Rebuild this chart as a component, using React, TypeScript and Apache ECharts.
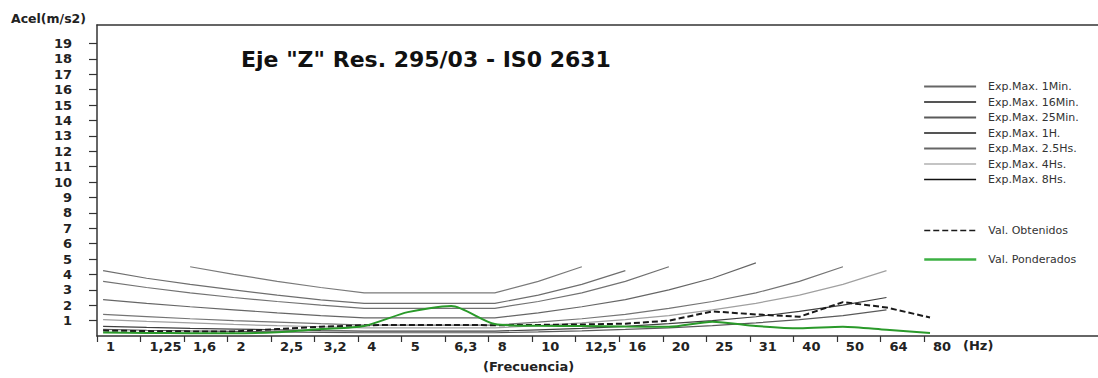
import React, { useEffect, useRef } from "react";
import * as echarts from "echarts";

// Frequency categories (Hz) as printed on the axis
const xLabels = ["1", "1,25", "1,6", "2", "2,5", "3,2", "4", "5", "6,3", "8", "10", "12,5", "16", "20", "25", "31", "40", "50", "64", "80"];

// Exposure limit curves (m/s2), null where the curve is not drawn
const exp1Min = [null, null, 4.5, 4.0, 3.55, 3.15, 2.8, 2.8, 2.8, 2.8, 3.55, 4.5, null, null, null, null, null, null, null, null];
const exp16Min = [4.25, 3.75, 3.35, 3.0, 2.65, 2.35, 2.12, 2.12, 2.12, 2.12, 2.65, 3.35, 4.25, null, null, null, null, null, null, null];
const exp25Min = [3.55, 3.15, 2.8, 2.5, 2.24, 2.0, 1.8, 1.8, 1.8, 1.8, 2.24, 2.8, 3.55, 4.5, null, null, null, null, null, null];
const exp1H = [2.36, 2.12, 1.9, 1.7, 1.5, 1.32, 1.18, 1.18, 1.18, 1.18, 1.5, 1.9, 2.36, 3.0, 3.75, 4.75, null, null, null, null];
const exp25H = [1.4, 1.26, 1.12, 1.0, 0.9, 0.8, 0.71, 0.71, 0.71, 0.71, 0.9, 1.12, 1.4, 1.8, 2.24, 2.8, 3.55, 4.5, null, null];
const exp4H = [1.06, 0.95, 0.85, 0.75, 0.67, 0.6, 0.53, 0.53, 0.53, 0.53, 0.67, 0.85, 1.06, 1.32, 1.7, 2.12, 2.65, 3.35, 4.25, null];
const exp8H = [0.63, 0.56, 0.5, 0.45, 0.4, 0.355, 0.315, 0.315, 0.315, 0.315, 0.4, 0.5, 0.63, 0.8, 1.0, 1.25, 1.6, 2.0, 2.5, null];
const exp16H = [0.425, 0.375, 0.335, 0.3, 0.265, 0.235, 0.21, 0.21, 0.21, 0.21, 0.265, 0.335, 0.425, 0.53, 0.67, 0.85, 1.06, 1.32, 1.7, null];

// Measured values
const valObtenidos = [0.35, 0.32, 0.3, 0.3, 0.45, 0.6, 0.7, 0.72, 0.72, 0.7, 0.72, 0.75, 0.8, 1.0, 1.6, 1.4, 1.25, 2.2, 1.85, 1.2];
const valPonderados = [0.22, 0.2, 0.18, 0.18, 0.25, 0.45, 0.65, 1.55, 1.95, 0.78, 0.66, 0.65, 0.62, 0.6, 0.93, 0.65, 0.5, 0.6, 0.4, 0.2];

const expNames = ["Exp.Max. 1Min.", "Exp.Max. 16Min.", "Exp.Max. 25Min.", "Exp.Max. 1H.", "Exp.Max. 2.5Hs.", "Exp.Max. 4Hs.", "Exp.Max. 8Hs.", "Exp.Max. 16Hs."];
const expData = [exp1Min, exp16Min, exp25Min, exp1H, exp25H, exp4H, exp8H, exp16H];
const expColors = ["#7a7a7a", "#6e6e6e", "#727272", "#666666", "#747474", "#a0a0a0", "#404040", "#5a5a5a"];
const legendColors = ["#666666", "#555555", "#5a5a5a", "#555555", "#666666", "#b0b0b0", "#111111"];

const yTickValues = [1, 2, 3, 4, 5, 6, 7, 8, 9, 10, 11, 12, 13, 14, 15, 16, 17, 18, 19];

const FONT = "DejaVu Sans";

function toPairs(arr: (number | null)[]) {
  const out: [number, number][] = [];
  arr.forEach((v, i) => {
    if (v !== null) out.push([i, v]);
  });
  return out;
}

export default function App() {
  const ref = useRef<HTMLDivElement>(null);
  useEffect(() => {
    document.body.style.margin = "0";
    if (!ref.current) return;
    const chart = echarts.init(ref.current, null, { renderer: "svg" });
    const xIdx = xLabels.map((_, i) => i);

    const series: any[] = expNames.map((name, k) => ({
      name,
      type: "line",
      xAxisIndex: 1,
      yAxisIndex: 0,
      showSymbol: false,
      symbol: "none",
      data: toPairs(expData[k]),
      lineStyle: { color: expColors[k], width: 1.2 },
      itemStyle: { color: expColors[k] },
      z: 2,
    }));
    series.push({
      name: "Val. Obtenidos",
      type: "line",
      xAxisIndex: 1,
      yAxisIndex: 0,
      showSymbol: false,
      symbol: "none",
      data: toPairs(valObtenidos),
      lineStyle: { color: "#1a1a1a", width: 2, type: [6, 3] },
      itemStyle: { color: "#1a1a1a" },
      z: 3,
    });
    series.push({
      name: "Val. Ponderados",
      type: "line",
      xAxisIndex: 1,
      yAxisIndex: 0,
      showSymbol: false,
      symbol: "none",
      smooth: 0.25,
      data: toPairs(valPonderados),
      lineStyle: { color: "#2a9a2a", width: 2 },
      itemStyle: { color: "#2a9a2a" },
      z: 4,
    });

    const option: any = {
      animation: false,
      backgroundColor: "#ffffff",
      title: [
        {
          text: 'Eje "Z" Res. 295/03 - IS0 2631',
          left: 241,
          top: 48,
          padding: 0,
          textStyle: { fontFamily: FONT, fontWeight: "bold", fontSize: 22, color: "#111" },
        },
        {
          text: "Acel(m/s2)",
          left: 11,
          top: 12,
          padding: 0,
          textStyle: { fontFamily: FONT, fontWeight: "bold", fontSize: 12.5, color: "#222" },
        },
        {
          text: "(Frecuencia)",
          left: 483,
          top: 360,
          padding: 0,
          textStyle: { fontFamily: FONT, fontWeight: "bold", fontSize: 13, color: "#222" },
        },
        {
          text: "(Hz)",
          left: 963,
          top: 339,
          padding: 0,
          textStyle: { fontFamily: FONT, fontWeight: "bold", fontSize: 13, color: "#222" },
        },
      ],
      legend: [
        {
          orient: "vertical",
          left: 923,
          top: 81,
          padding: 0,
          itemWidth: 52,
          itemHeight: 10,
          itemGap: 4.5,
          itemStyle: { opacity: 0 },
          data: expNames.slice(0, 7).map((n, k) => ({
            name: n,
            itemStyle: { opacity: 0 },
            lineStyle: { width: k === 5 || k === 6 ? 1.5 : 2.2, color: legendColors[k] },
          })),
          textStyle: { fontFamily: FONT, fontSize: 11, color: "#333", lineHeight: 11, padding: [0, 0, 0, 7] },
        },
        {
          orient: "vertical",
          left: 923,
          top: 223,
          padding: 0,
          itemWidth: 52,
          itemHeight: 10,
          itemGap: 14,
          itemStyle: { opacity: 0 },
          data: [
            { name: "Val. Obtenidos", itemStyle: { opacity: 0 }, lineStyle: { width: 1.5 } },
            { name: "Val. Ponderados", itemStyle: { opacity: 0 }, lineStyle: { width: 2.5, color: "#3cb043" } },
          ],
          textStyle: { fontFamily: FONT, fontSize: 11, color: "#333", lineHeight: 11, padding: [4, 0, 0, 7] },
        },
      ],
      grid: { left: 97, right: 0, top: 25, bottom: 42, containLabel: false },
      xAxis: [
        {
          type: "value",
          position: "bottom",
          min: 0,
          max: 23,
          interval: 1,
          axisLine: { show: true, lineStyle: { color: "#333", width: 1.5 } },
          axisTick: { show: true, length: 6, customValues: xIdx, lineStyle: { color: "#333", width: 1.2 } },
          axisLabel: {
            show: true,
            customValues: xIdx,
            formatter: (v: number) => xLabels[Math.round(v)] ?? "",
            align: "left",
            padding: [0, 0, 0, 9],
            margin: 4,
            fontFamily: FONT,
            fontWeight: "bold",
            fontSize: 13,
            color: "#222",
          },
          splitLine: { show: false },
        },
        {
          type: "value",
          position: "top",
          min: -0.14,
          max: 22.86,
          axisLine: { show: true, onZero: false, lineStyle: { color: "#333", width: 1.5 } },
          axisTick: { show: false },
          axisLabel: { show: false },
          splitLine: { show: false },
        },
      ],
      yAxis: [
        {
          type: "value",
          min: 0,
          max: 20.2,
          interval: 1,
          axisLine: { show: true, lineStyle: { color: "#333", width: 1.5 } },
          axisTick: { show: true, length: 8, customValues: yTickValues, lineStyle: { color: "#333", width: 1.2 } },
          axisLabel: {
            show: true,
            customValues: yTickValues,
            formatter: (v: number) => (v >= 1 && v <= 19 ? String(Math.round(v)) : ""),
            margin: 25,
            fontFamily: FONT,
            fontWeight: "bold",
            fontSize: 13,
            color: "#222",
          },
          splitLine: { show: false },
        },
      ],
      series,
    };
    chart.setOption(option);
    return () => chart.dispose();
  }, []);
  return <div ref={ref} style={{ width: 1098, height: 378 }} />;
}
